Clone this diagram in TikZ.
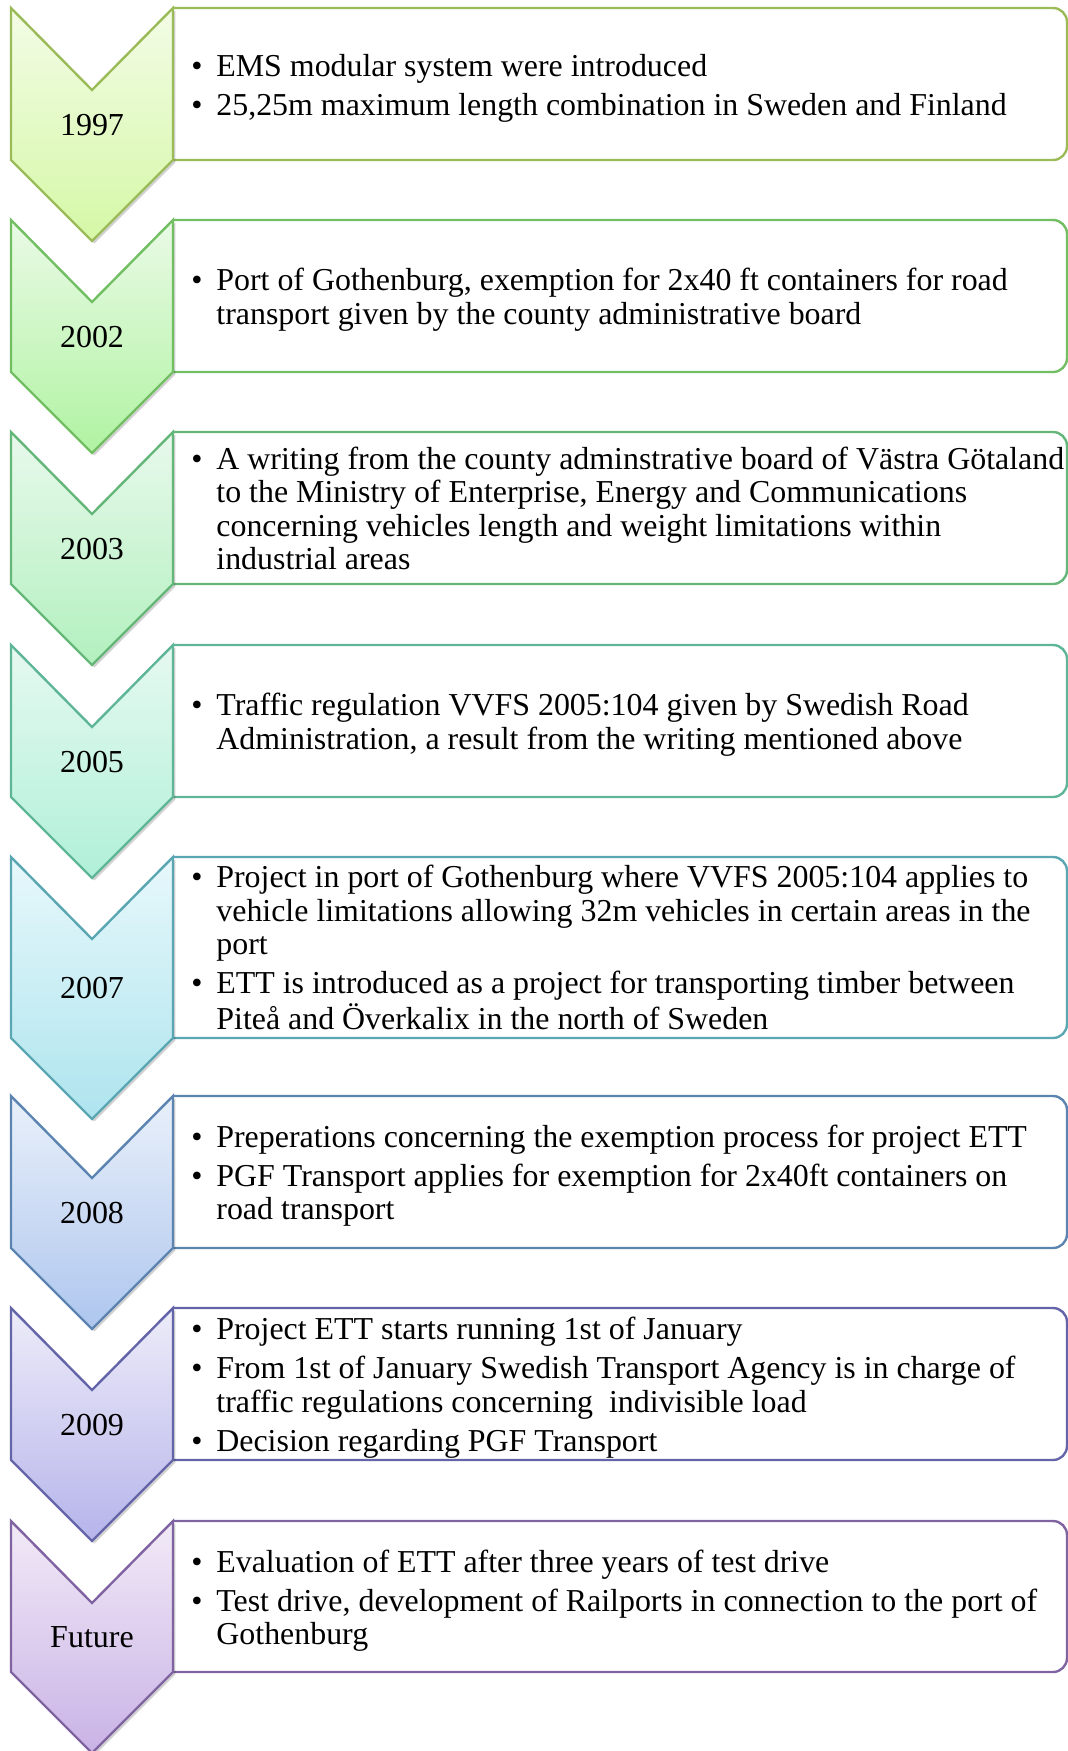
\documentclass[tikz,border=0pt]{standalone}
\usepackage{fontspec}
\setmainfont{Liberation Serif}
\usetikzlibrary{shadows}

% border / fill-top / fill-bottom colours of each stage
\definecolor{rimA}{HTML}{9BBB59}\definecolor{topA}{HTML}{F3FCE6}\definecolor{botA}{HTML}{D5F8A6}
\definecolor{rimB}{HTML}{72BE62}\definecolor{topB}{HTML}{EAFAE6}\definecolor{botB}{HTML}{B0F3A2}
\definecolor{rimC}{HTML}{64B679}\definecolor{topC}{HTML}{E8F9EC}\definecolor{botC}{HTML}{B2F0BE}
\definecolor{rimD}{HTML}{5EB597}\definecolor{topD}{HTML}{E6F9F1}\definecolor{botD}{HTML}{B0F0D8}
\definecolor{rimE}{HTML}{5AA6B2}\definecolor{topE}{HTML}{E7F8FB}\definecolor{botE}{HTML}{AEE4EE}
\definecolor{rimF}{HTML}{5C84B0}\definecolor{topF}{HTML}{E9F0FA}\definecolor{botF}{HTML}{AEC6EE}
\definecolor{rimG}{HTML}{6464A8}\definecolor{topG}{HTML}{EDECF9}\definecolor{botG}{HTML}{B6B4EA}
\definecolor{rimH}{HTML}{8064A2}\definecolor{topH}{HTML}{F2EAF7}\definecolor{botH}{HTML}{C9B3E6}

\tikzset{
  rim/.style={line width=1.2pt, line join=miter},
  chevshadow/.style={drop shadow={shadow xshift=1.2pt, shadow yshift=-1.2pt, opacity=0.18, fill=black}},
  itemtext/.style={anchor=west, inner sep=0pt, align=left, font=\fontsize{15.95}{16.75}\selectfont},
  yeartext/.style={inner sep=0pt, font=\fontsize{16}{16.75}\selectfont}
}

% #1 top, #2 bottom, #3 colour letter, #4 year label, #5 node name
\newcommand\stage[5]{%
  \draw[rim, draw=rim#3, rounded corners=7pt]
    (173,#1) -- (1067,#1) -- (1067,#2) -- (173,#2);
  \draw[rim, draw=rim#3, top color=top#3, bottom color=bot#3, chevshadow]
    (11,#1) -- (92,{#1+82}) -- (173,#1) -- (173,#2) -- (92,{#2+81}) -- (11,#2) -- cycle;
  \node[yeartext] (#5) at (92,{(#1+82+#2)/2}) {#4};
}
\newcommand\bul{\makebox[12.5pt][l]{\textbullet}}
\newcommand\bgap{\\[2.75pt]}

\begin{document}
\begin{tikzpicture}[x=0.5pt, y=-0.5pt]
\useasboundingbox (0,0) rectangle (1068,1751);

\stage{8}{160}{A}{1997}{y1997}
\node[itemtext] (t1997) at (191,89) {\begin{tabular}{@{}l@{}l@{}}
\bul & EMS modular system were introduced\bgap
\bul & 25,25m maximum length combination in Sweden and Finland
\end{tabular}};

\stage{220}{372}{B}{2002}{y2002}
\node[itemtext] (t2002) at (191,301) {\begin{tabular}{@{}l@{}l@{}}
\bul & Port of Gothenburg, exemption for 2x40 ft containers for road\\
     & transport given by the county administrative board
\end{tabular}};

\stage{432}{584}{C}{2003}{y2003}
\node[itemtext] (t2003) at (191,513) {\begin{tabular}{@{}l@{}l@{}}
\bul & A writing from the county adminstrative board of Västra Götaland\\
     & to the Ministry of Enterprise, Energy and Communications\\
     & concerning vehicles length and weight limitations within\\
     & industrial areas
\end{tabular}};

\stage{645}{797}{D}{2005}{y2005}
\node[itemtext] (t2005) at (191,726) {\begin{tabular}{@{}l@{}l@{}}
\bul & Traffic regulation VVFS 2005:104 given by Swedish Road\\
     & Administration, a result from the writing mentioned above
\end{tabular}};

\stage{857}{1038}{E}{2007}{y2007}
\node[itemtext] (t2007) at (191,952) {\begin{tabular}{@{}l@{}l@{}}
\bul & Project in port of Gothenburg where VVFS 2005:104 applies to\\
     & vehicle limitations allowing 32m vehicles in certain areas in the\\
     & port\bgap
\bul & ETT is introduced as a project for transporting timber between\\
     & Piteå and Överkalix in the north of Sweden
\end{tabular}};

\stage{1096}{1248}{F}{2008}{y2008}
\node[itemtext] (t2008) at (191,1177) {\begin{tabular}{@{}l@{}l@{}}
\bul & Preperations concerning the exemption process for project ETT\bgap
\bul & PGF Transport applies for exemption for 2x40ft containers on\\
     & road transport
\end{tabular}};

\stage{1308}{1460}{G}{2009}{y2009}
\node[itemtext] (t2009) at (191,1389) {\begin{tabular}{@{}l@{}l@{}}
\bul & Project ETT starts running 1st of January\bgap
\bul & From 1st of January Swedish Transport Agency is in charge of\\
     & traffic regulations concerning \ indivisible load\bgap
\bul & Decision regarding PGF Transport
\end{tabular}};

\stage{1521}{1672}{H}{Future}{yfuture}
\node[itemtext] (tfuture) at (191,1602) {\begin{tabular}{@{}l@{}l@{}}
\bul & Evaluation of ETT after three years of test drive\bgap
\bul & Test drive, development of Railports in connection to the port of\\
     & Gothenburg
\end{tabular}};
\end{tikzpicture}
\end{document}
